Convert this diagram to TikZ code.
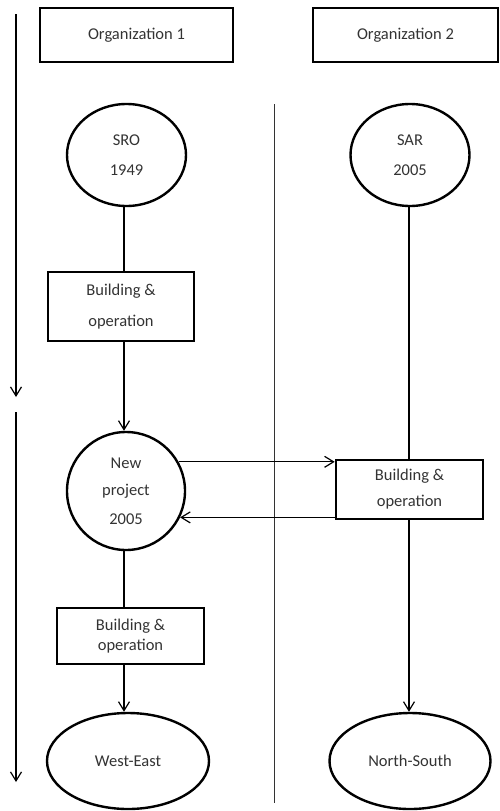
\documentclass[tikz,border=0pt]{standalone}
\usepackage{fontspec}
\setmainfont{Carlito}
\usetikzlibrary{arrows.meta,shapes.geometric}
\definecolor{txt}{HTML}{333333}
\begin{document}
\begin{tikzpicture}[x=1pt,y=-1pt,
  every node/.style={font=\fontsize{16.5}{20}\selectfont, text=txt, align=center, inner sep=0pt},
  orgbox/.style={draw, line width=2.6pt, rectangle},
  bobox/.style={draw, line width=2.6pt, rectangle},
  oval/.style={draw, line width=2.4pt, ellipse},
  conn/.style={line width=1.2pt},
  arr/.style={line width=1.2pt, -{Straight Barb[length=9pt,width=11pt]}},
  divider/.style={line width=1pt, draw=black!80}]
\useasboundingbox (0,0) rectangle (500,811);
% headers
\node[orgbox, minimum width=193pt, minimum height=54pt] (org1) at (136.5,35) {Organization 1};
\node[orgbox, minimum width=185pt, minimum height=54pt] (org2) at (405.5,35) {Organization 2};
% left column
\node[oval, minimum width=119pt, minimum height=102pt] (sro) at (126.5,155) {SRO\\[10pt]1949};
\node[bobox, minimum width=146pt, minimum height=69pt] (b1) at (121,306.5) {Building \&\\[11pt]operation};
\node[oval, circle, minimum size=118pt] (np) at (126,491) {New\\[7pt]project\\[9pt]2005};
\node[bobox, minimum width=147pt, minimum height=56pt] (b3) at (130.5,636) {Building \&\\operation};
\node[oval, minimum width=162pt, minimum height=96pt] (we) at (128,761) {West-East};
% right column
\node[oval, minimum width=119pt, minimum height=102pt] (sar) at (410,155) {SAR\\[10pt]2005};
\node[bobox, minimum width=147pt, minimum height=59pt] (b2) at (409.5,489.5) {Building \&\\[6pt]operation};
\node[oval, minimum width=161pt, minimum height=96pt] (ns) at (410,761) {North-South};
% time arrows and divider
\coordinate (t1a) at (16,14);
\coordinate (t1b) at (16,397);
\coordinate (t2a) at (16,412);
\coordinate (t2b) at (16,782);
\coordinate (da) at (274,104);
\coordinate (db) at (274,803);
\draw[arr] (t1a) -- (t1b);
\draw[arr] (t2a) -- (t2b);
\draw[divider] (da) -- (db);
% connectors
\draw[conn] (sro.south -| 124,0) -- (b1.north -| 124,0);
\draw[arr] (b1.south -| 124,0) -- (np.north -| 124,0);
\draw[conn] (np.south -| 124,0) -- (b3.north -| 124,0);
\draw[arr] (b3.south -| 124,0) -- (we.north -| 124,0);
\draw[conn] (sar.south -| 409,0) -- (b2.north -| 409,0);
\draw[arr] (b2.south -| 409,0) -- (ns.north -| 409,0);
\draw[arr] (np.29) -- (np.29 -| b2.west);
\draw[arr] (np.-26 -| b2.west) -- (np.-26);
\end{tikzpicture}
\end{document}
